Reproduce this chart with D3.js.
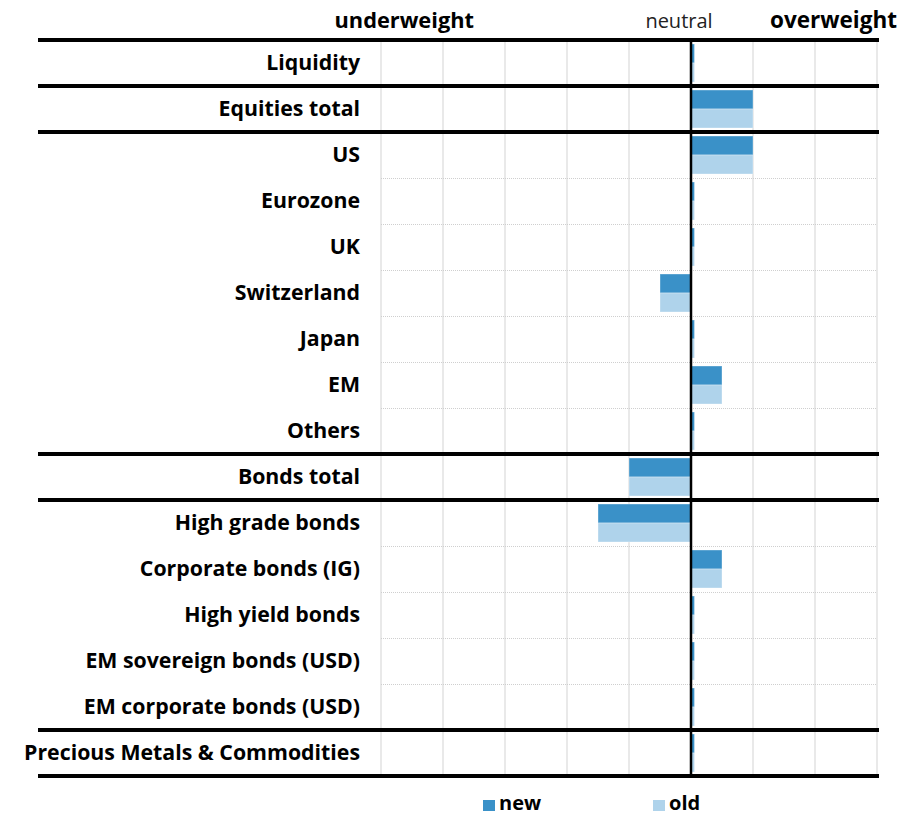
<!DOCTYPE html>
<html>
<head>
<meta charset="utf-8">
<script src="https://cdn.jsdelivr.net/npm/d3@7"></script>
<style>
  html, body { margin: 0; padding: 0; background: #fff; }
  svg { display: block; font-family: "Open Sans", "Noto Sans", sans-serif; }
</style>
</head>
<body>
<svg id="chart" width="899" height="815"></svg>
<script>
// Asset classes, top to bottom
const categories = [
  "Liquidity",
  "Equities total",
  "US",
  "Eurozone",
  "UK",
  "Switzerland",
  "Japan",
  "EM",
  "Others",
  "Bonds total",
  "High grade bonds",
  "Corporate bonds (IG)",
  "High yield bonds",
  "EM sovereign bonds (USD)",
  "EM corporate bonds (USD)",
  "Precious Metals & Commodities"
];

// Positioning relative to neutral (0)
const newValues = [0, 1, 1, 0, 0, -0.5, 0, 0.5, 0, -1, -1.5, 0.5, 0, 0, 0, 0];
const oldValues = [0, 1, 1, 0, 0, -0.5, 0, 0.5, 0, -1, -1.5, 0.5, 0, 0, 0, 0];

// Rows after which a heavy separator is drawn (section boundaries)
const sectionBreaks = ["Liquidity", "Equities total", "Others", "Bonds total", "EM corporate bonds (USD)"];

const seriesNames = ["new", "old"];
const seriesColors = ["#3a91c8", "#afd3eb"];

const axisDomain = [-5, 3];
const gridTicks = [-5, -4, -3, -2, -1, 0, 1, 2, 3];

const svg = d3.select("#chart");

const plotLeft = 381, plotRight = 877;
const plotTop = 40, plotBottom = 776;
const lineLeft = 38, lineRight = 879;

const x = d3.scaleLinear().domain(axisDomain).range([plotLeft, plotRight]);
const y = d3.scaleBand().domain(categories).range([plotTop, plotBottom]);
const rowH = y.bandwidth();

// minimum visible stub for neutral positions
const stub = 3.5;

// vertical grid lines
svg.append("g").selectAll("line")
  .data(gridTicks.filter(d => d !== 0))
  .join("line")
  .attr("x1", d => x(d)).attr("x2", d => x(d))
  .attr("y1", plotTop).attr("y2", plotBottom)
  .attr("stroke", "#d3d3d3").attr("stroke-width", 1);

// dotted separators within sections
svg.append("g").selectAll("line")
  .data(categories.slice(0, -1).filter(c => !sectionBreaks.includes(c)))
  .join("line")
  .attr("x1", plotLeft).attr("x2", plotRight)
  .attr("y1", d => Math.round(y(d) + rowH) + 0.5)
  .attr("y2", d => Math.round(y(d) + rowH) + 0.5)
  .attr("stroke", "#cfcfcf").attr("stroke-width", 1)
  .attr("stroke-dasharray", "1,1");

// bars
const barH = 19, barPad = 4;
const series = [newValues, oldValues];
series.forEach((vals, si) => {
  svg.append("g").selectAll("rect")
    .data(categories.map((c, i) => ({ c, v: vals[i] })))
    .join("rect")
    .attr("x", d => d.v >= 0 ? x(0) : x(d.v))
    .attr("width", d => Math.max(Math.abs(x(d.v) - x(0)), stub))
    .attr("y", d => y(d.c) + barPad + si * barH)
    .attr("height", barH)
    .attr("fill", seriesColors[si])
    .attr("stroke", "#ffffff").attr("stroke-opacity", 0.35).attr("stroke-width", 1);
});

// neutral line
svg.append("line")
  .attr("x1", x(0)).attr("x2", x(0))
  .attr("y1", plotTop).attr("y2", plotBottom)
  .attr("stroke", "#000").attr("stroke-width", 2.5);

// heavy section lines
const heavy = [plotTop].concat(sectionBreaks.map(c => y(c) + rowH)).concat([plotBottom]);
svg.append("g").selectAll("line")
  .data(heavy)
  .join("line")
  .attr("x1", lineLeft).attr("x2", lineRight)
  .attr("y1", d => d).attr("y2", d => d)
  .attr("stroke", "#000").attr("stroke-width", 4);

// category labels
svg.append("g").selectAll("text")
  .data(categories)
  .join("text")
  .attr("x", 360)
  .attr("y", d => y(d) + rowH / 2)
  .attr("dy", "0.33em")
  .attr("text-anchor", "end")
  .attr("font-size", 21.3)
  .attr("font-weight", 700)
  .attr("fill", "#000")
  .text(d => d);

// header
svg.append("text").attr("x", 474).attr("y", 28).attr("text-anchor", "end")
  .attr("font-size", 21.8).attr("font-weight", 700).text("underweight");
svg.append("text").attr("x", 679).attr("y", 28).attr("text-anchor", "middle")
  .attr("font-size", 20).attr("font-weight", 400).attr("fill", "#222").text("neutral");
svg.append("text").attr("x", 897).attr("y", 28).attr("text-anchor", "end")
  .attr("font-size", 22.5).attr("font-weight", 700).text("overweight");

// legend
const legendX = [483, 653];
const legend = svg.append("g").selectAll("g")
  .data(seriesNames)
  .join("g")
  .attr("transform", (d, i) => `translate(${legendX[i]},800)`);
legend.append("rect").attr("width", 12).attr("height", 11)
  .attr("fill", (d, i) => seriesColors[i]);
legend.append("text").attr("x", 16).attr("y", 9.5)
  .attr("font-size", 20).attr("font-weight", 700).text(d => d);
</script>
</body>
</html>
